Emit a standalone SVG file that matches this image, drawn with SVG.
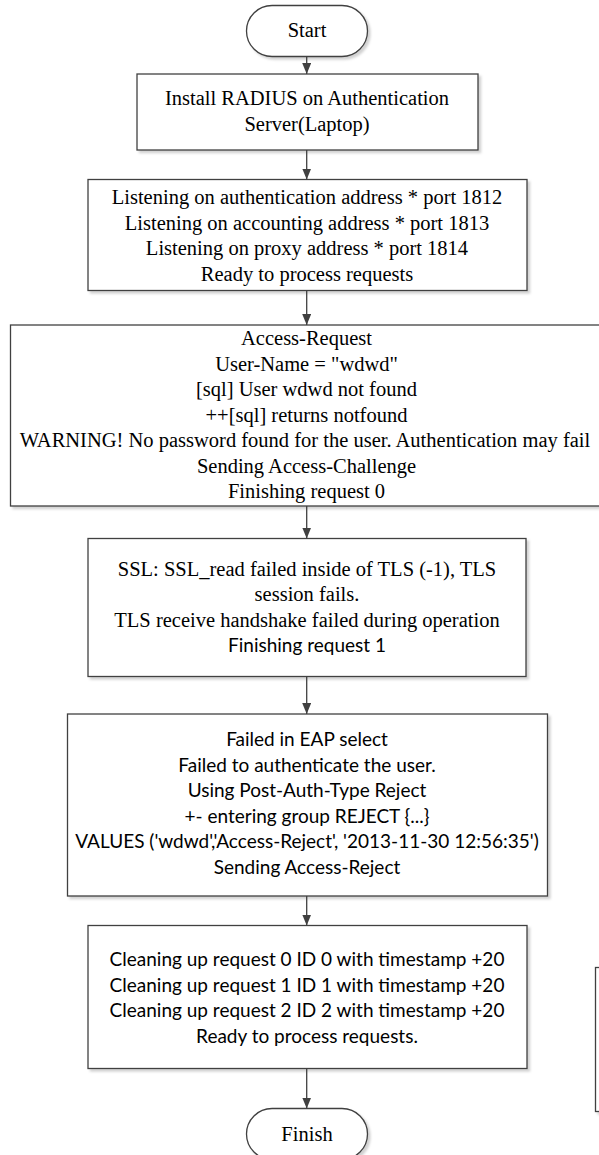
<svg xmlns="http://www.w3.org/2000/svg" width="599" height="1155" viewBox="0 0 599 1155">
<style>
.box{fill:#fff;stroke:#404040;stroke-width:1.3;filter:url(#sh)}
.t{font-family:"Liberation Serif","Times New Roman",serif;font-size:20.5px;fill:#000;text-anchor:middle}
.s{font-family:Lato,"Liberation Sans",sans-serif;font-size:19px;fill:#000;text-anchor:middle}
.c{stroke:#404040;stroke-width:1.3;fill:none;marker-end:url(#ah)}
</style>
<defs>
<filter id="sh" x="-5%" y="-5%" width="115%" height="120%">
<feDropShadow dx="2.5" dy="2.5" stdDeviation="1" flood-color="#000" flood-opacity="0.18"/>
</filter>
<marker id="ah" markerUnits="userSpaceOnUse" markerWidth="11" markerHeight="9" viewBox="0 0 11 9" refX="11" refY="4.5" orient="auto">
<path d="M0,0 L11,4.5 L0,9 z" fill="#404040"/>
</marker>
</defs>
<rect width="599" height="1155" fill="#fff"/>
<g id="start">
<rect class="box" x="246.5" y="5.5" width="121" height="51" rx="25.5"/>
<text class="t" x="307" y="37">Start</text>
</g>
<g id="install">
<rect class="box" x="137" y="74" width="341" height="76"/>
<text class="t" x="307" y="105">Install RADIUS on Authentication</text>
<text class="t" x="307" y="131">Server(Laptop)</text>
</g>
<g id="listening">
<rect class="box" x="88" y="179.5" width="439" height="111"/>
<text class="t" x="307" y="204">Listening on authentication address * port 1812</text>
<text class="t" x="307" y="229.5">Listening on accounting address * port 1813</text>
<text class="t" x="307" y="255">Listening on proxy address * port 1814</text>
<text class="t" x="307" y="280.5">Ready to process requests</text>
</g>
<g id="access-request">
<rect class="box" x="10.5" y="325" width="595" height="181"/>
<text class="t" x="306.5" y="345">Access-Request</text>
<text class="t" x="306.5" y="370.5">User-Name = "wdwd"</text>
<text class="t" x="306.5" y="396">[sql] User wdwd not found</text>
<text class="t" x="306.5" y="421.5">++[sql] returns notfound</text>
<text class="t" x="305" y="447">WARNING! No password found for the user. Authentication may fail</text>
<text class="t" x="306.5" y="472.5">Sending Access-Challenge</text>
<text class="t" x="306.5" y="498">Finishing request 0</text>
</g>
<g id="tls">
<rect class="box" x="88" y="538.5" width="438" height="138"/>
<text class="t" x="307" y="575.5">SSL: SSL_read failed inside of TLS (-1), TLS</text>
<text class="t" x="307" y="600.5">session fails.</text>
<text class="t" x="307" y="626.5">TLS receive handshake failed during operation</text>
<text class="s" x="307" y="651.5">Finishing request 1</text>
</g>
<g id="reject">
<rect class="box" x="67.5" y="714" width="480" height="182"/>
<text class="s" x="307" y="746">Failed in EAP select</text>
<text class="s" x="307" y="771.5">Failed to authenticate the user.</text>
<text class="s" x="307" y="797">Using Post-Auth-Type Reject</text>
<text class="s" x="307" y="822.5">+- entering group REJECT {...}</text>
<text class="s" x="307" y="848">VALUES ('wdwd','Access-Reject', '2013-11-30 12:56:35')</text>
<text class="s" x="307" y="873.5">Sending Access-Reject</text>
</g>
<g id="cleanup">
<rect class="box" x="88" y="925.5" width="439" height="143"/>
<text class="s" x="307" y="966">Cleaning up request 0 ID 0 with timestamp +20</text>
<text class="s" x="307" y="991.5">Cleaning up request 1 ID 1 with timestamp +20</text>
<text class="s" x="307" y="1017">Cleaning up request 2 ID 2 with timestamp +20</text>
<text class="s" x="307" y="1042.5">Ready to process requests.</text>
</g>
<g id="finish">
<rect class="box" x="246.5" y="1108.5" width="121" height="51" rx="25.5"/>
<text class="t" x="307" y="1140.5">Finish</text>
</g>
<g id="side-box">
<rect class="box" x="595.5" y="967.5" width="20" height="144"/>
</g>
<g id="connectors">
<line class="c" x1="306.7" y1="56.5" x2="306.7" y2="74"/>
<line class="c" x1="306.7" y1="150" x2="306.7" y2="179.5"/>
<line class="c" x1="306.7" y1="290.5" x2="306.7" y2="325"/>
<line class="c" x1="306.7" y1="506" x2="306.7" y2="538.5"/>
<line class="c" x1="306.7" y1="676.5" x2="306.7" y2="714"/>
<line class="c" x1="306.7" y1="896" x2="306.7" y2="925.5"/>
<line class="c" x1="306.7" y1="1068.5" x2="306.7" y2="1108.5"/>
</g>
</svg>
